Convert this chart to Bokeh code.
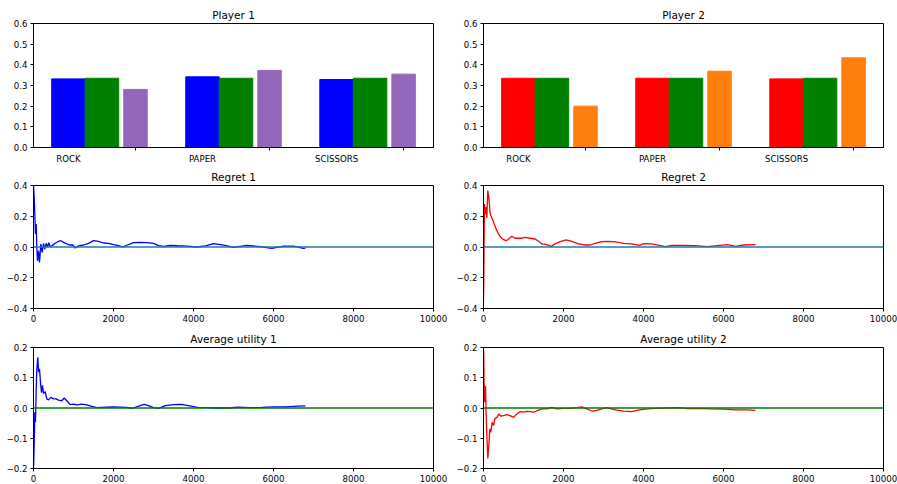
from bokeh.plotting import figure
from bokeh.layouts import column, row
from bokeh.models import FixedTicker, Span, Range1d
from bokeh.embed import file_html
from bokeh.resources import INLINE

# ---------------- data ----------------
categories = ["ROCK", "PAPER", "SCISSORS"]

p1_empirical = [0.332, 0.342, 0.329]
p1_nash = [0.335, 0.335, 0.335]
p1_other = [0.281, 0.373, 0.355]

p2_empirical = [0.335, 0.335, 0.332]
p2_nash = [0.335, 0.335, 0.335]
p2_other = [0.200, 0.369, 0.434]

regret1_x = [0, 17, 33, 50, 67, 83, 100, 125, 150, 183,
             217, 250, 283, 317, 350, 383, 417, 467, 542, 625,
             683, 750, 833, 900, 983, 1042, 1125, 1250, 1375, 1500,
             1625, 1750, 1875, 2000, 2125, 2233, 2350, 2500, 2667, 2833,
             3000, 3125, 3250, 3417, 3600, 3833, 4083, 4300, 4500, 4792,
             5000, 5333, 5667, 5958, 6250, 6500, 6750, 6800]
regret1_y = [0.40, 0.32, 0.215, 0.085, 0.15, 0.0, -0.09, -0.024, -0.10, 0.02,
             -0.035, 0.024, -0.013, 0.024, 0.0, 0.028, 0.002, 0.009, 0.024, 0.037,
             0.041, 0.03, 0.02, 0.013, 0.013, -0.007, 0.007, 0.013, 0.024, 0.041,
             0.037, 0.026, 0.024, 0.015, 0.009, 0.0, 0.013, 0.028, 0.03, 0.028,
             0.024, 0.009, 0.004, 0.01, 0.008, 0.006, 0.0, 0.007, 0.022, 0.011,
             -0.002, 0.011, 0.002, -0.009, 0.006, 0.006, -0.009, -0.007]

regret2_x = [0, 8, 17, 25, 42, 58, 83, 108, 133, 167,
             192, 225, 267, 317, 375, 433, 500, 567, 625, 708,
             792, 875, 958, 1042, 1167, 1292, 1375, 1458, 1583, 1692,
             1792, 1917, 2067, 2208, 2375, 2542, 2667, 2792, 2958, 3125,
             3300, 3500, 3700, 3900, 4000, 4200, 4400, 4550, 4700, 5000,
             5300, 5600, 5900, 6100, 6300, 6500, 6800]
regret2_y = [-0.34, -0.20, 0.085, 0.28, 0.215, 0.26, 0.19, 0.367, 0.32, 0.215,
             0.20, 0.18, 0.15, 0.117, 0.085, 0.063, 0.048, 0.041, 0.052, 0.07,
             0.057, 0.057, 0.057, 0.063, 0.057, 0.052, 0.037, 0.02, 0.015, 0.004,
             0.02, 0.035, 0.046, 0.037, 0.02, 0.013, 0.013, 0.024, 0.035, 0.037,
             0.033, 0.024, 0.02, 0.011, 0.022, 0.02, 0.011, 0.002, 0.011, 0.011,
             0.009, 0.002, 0.011, 0.015, 0.004, 0.013, 0.015]

utility1_x = [0, 17, 33, 50, 67, 83, 108, 125, 150, 175,
              200, 225, 250, 292, 333, 375, 433, 500, 567, 625,
              708, 767, 833, 917, 1000, 1083, 1208, 1333, 1458, 1583,
              1708, 1833, 2000, 2167, 2333, 2458, 2542, 2667, 2767, 2875,
              3000, 3125, 3300, 3500, 3700, 3900, 4100, 4300, 4600, 4900,
              5100, 5400, 5700, 6000, 6300, 6600, 6800]
utility1_y = [-0.20, -0.123, -0.014, -0.047, 0.062, 0.128, 0.168, 0.119, 0.13, 0.084,
              0.051, 0.075, 0.048, 0.054, 0.03, 0.027, 0.035, 0.03, 0.03, 0.026,
              0.024, 0.033, 0.024, 0.011, 0.013, 0.01, 0.013, 0.01, 0.005, 0.001,
              0.002, 0.003, 0.004, 0.003, 0.002, -0.001, 0.002, 0.008, 0.012, 0.008,
              0.001, -0.001, 0.008, 0.011, 0.012, 0.007, 0.002, 0.001, 0.0, 0.0,
              0.003, 0.001, 0.002, 0.004, 0.004, 0.006, 0.007]

utility2_x = [0, 8, 17, 33, 50, 67, 83, 108, 133, 158,
              183, 217, 250, 283, 333, 383, 433, 500, 583, 667,
              750, 833, 917, 1000, 1083, 1167, 1250, 1350, 1458, 1583,
              1708, 1833, 2000, 2167, 2333, 2458, 2583, 2708, 2833, 2958,
              3083, 3300, 3500, 3700, 3900, 4100, 4300, 4600, 4900, 5100,
              5400, 5700, 6000, 6300, 6600, 6800]
utility2_y = [0.20, 0.16, 0.04, 0.019, 0.073, -0.025, -0.09, -0.167, -0.123, -0.069,
              -0.08, -0.047, -0.058, -0.036, -0.031, -0.02, -0.027, -0.025, -0.022, -0.025,
              -0.031, -0.02, -0.012, -0.014, -0.011, -0.012, -0.014, -0.009, -0.003, -0.003,
              0.002, -0.003, -0.001, -0.001, 0.001, 0.004, -0.003, -0.01, -0.008, -0.003,
              0.001, -0.006, -0.01, -0.012, -0.006, -0.003, -0.001, 0.0, 0.001, -0.002,
              -0.001, -0.003, -0.004, -0.006, -0.006, -0.008]

bar_yticks = [0.0, 0.1, 0.2, 0.3, 0.4, 0.5, 0.6]
iter_ticks = [0, 2000, 4000, 6000, 8000, 10000]
regret_ticks = [-0.4, -0.2, 0.0, 0.2, 0.4]
utility_ticks = [-0.2, -0.1, 0.0, 0.1, 0.2]
n_iterations = 10000

# ---------------- styling ----------------
FONT = "DejaVu Sans"
W_LEFT, W_RIGHT = 450, 447
BL_LEFT, BR_LEFT = 33, 17
BL_RIGHT, BR_RIGHT = 33, 14
ROWS = [(166, 23, 19), (161, 19, 19), (157, 20, 15)]


def fmt(v):
    s = "%.1f" % v
    return s.replace("-", "\u2212")


def make_fig(title, col, rowi, x_range, y_range):
    h, bt, bb = ROWS[rowi]
    w, bl, br = (W_LEFT, BL_LEFT, BR_LEFT) if col == 0 else (W_RIGHT, BL_RIGHT, BR_RIGHT)
    p = figure(width=w, height=h, x_range=x_range, y_range=y_range,
               output_backend="svg", toolbar_location=None, title=title,
               min_border_left=bl, min_border_right=br,
               min_border_top=bt, min_border_bottom=bb)
    p.grid.visible = False
    p.outline_line_color = "black"
    p.outline_line_width = 1
    p.background_fill_color = "white"
    p.border_fill_color = "white"
    p.title.text_font = FONT
    p.title.text_font_size = "10.5px"
    p.title.text_font_style = "normal"
    p.title.text_color = "black"
    p.title.align = "center"
    p.title.standoff = 5
    for ax in (p.xaxis[0], p.yaxis[0]):
        ax.major_label_text_font = FONT
        ax.major_label_text_font_size = "8.6px"
        ax.major_label_text_color = "black"
        ax.axis_line_color = "black"
        ax.major_tick_line_color = "black"
        ax.major_tick_out = 3
        ax.major_tick_in = 0
        ax.minor_tick_line_color = None
        ax.major_label_standoff = 3
    return p


def bar_fig(title, col, emp, nash, other, c_emp, c_other):
    idx = list(range(len(categories)))
    w_main, w_other, off_other = 0.25, 0.175, 0.5
    lo = min(idx) - w_main / 2
    hi = max(idx) + off_other + w_other / 2
    pad = 0.05 * (hi - lo)
    p = make_fig(title, col, 0, Range1d(lo - pad, hi + pad), Range1d(0, 0.6))
    p.vbar(x=idx, top=emp, width=w_main, color=c_emp)
    p.vbar(x=[i + w_main for i in idx], top=nash, width=w_main, color="#008000")
    p.vbar(x=[i + off_other for i in idx], top=other, width=w_other, color=c_other)
    xa = p.xaxis[0]
    xa.ticker = FixedTicker(ticks=idx, minor_ticks=[i + off_other for i in idx])
    xa.major_label_overrides = {i: c for i, c in zip(idx, categories)}
    xa.major_tick_out = 0
    xa.major_tick_line_color = None
    xa.minor_tick_line_color = "black"
    xa.minor_tick_out = 3
    xa.minor_tick_in = 0
    xa.major_label_standoff = 3
    ya = p.yaxis[0]
    ya.ticker = FixedTicker(ticks=bar_yticks)
    ya.major_label_overrides = {t: fmt(t) for t in bar_yticks}
    return p


def line_fig(title, col, rowi, xs, ys, color, yticks, zero_color):
    p = make_fig(title, col, rowi, Range1d(0, n_iterations), Range1d(yticks[0], yticks[-1]))
    p.line(xs, ys, color=color, line_width=1.3)
    p.add_layout(Span(location=0, dimension="width", line_color=zero_color, line_width=1.5))
    p.xaxis[0].ticker = FixedTicker(ticks=iter_ticks)
    p.xaxis[0].major_label_overrides = {t: str(t) for t in iter_ticks}
    p.yaxis[0].ticker = FixedTicker(ticks=yticks)
    p.yaxis[0].major_label_overrides = {t: fmt(t) for t in yticks}
    return p


f1 = bar_fig("Player 1", 0, p1_empirical, p1_nash, p1_other, "#0000ff", "#9467bd")
f2 = bar_fig("Player 2", 1, p2_empirical, p2_nash, p2_other, "#ff0000", "#ff7f0e")
f3 = line_fig("Regret 1", 0, 1, regret1_x, regret1_y, "#0000ff", regret_ticks, "#1f77b4")
f4 = line_fig("Regret 2", 1, 1, regret2_x, regret2_y, "#ff0000", regret_ticks, "#1f77b4")
f5 = line_fig("Average utility 1", 0, 2, utility1_x, utility1_y, "#0000ff", utility_ticks, "#008000")
f6 = line_fig("Average utility 2", 1, 2, utility2_x, utility2_y, "#ff0000", utility_ticks, "#008000")

layout = column(row(f1, f2, spacing=0), row(f3, f4, spacing=0), row(f5, f6, spacing=0), spacing=0)

open("out.html", "w").write(file_html(layout, INLINE))
